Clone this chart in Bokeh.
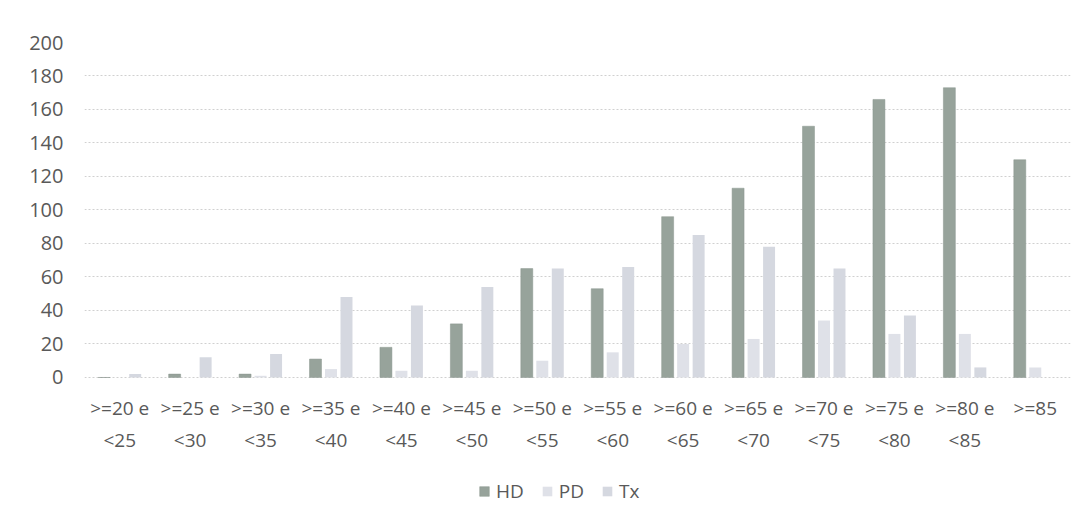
from bokeh.plotting import figure
from bokeh.models import (ColumnDataSource, FactorRange, Range1d, Legend, LegendItem,
                          FixedTicker)
from bokeh.transform import dodge
from bokeh.embed import file_html
from bokeh.resources import INLINE

# Age groups and counts per modality
groups = [">=20 e\n<25", ">=25 e\n<30", ">=30 e\n<35", ">=35 e\n<40", ">=40 e\n<45",
          ">=45 e\n<50", ">=50 e\n<55", ">=55 e\n<60", ">=60 e\n<65", ">=65 e\n<70",
          ">=70 e\n<75", ">=75 e\n<80", ">=80 e\n<85", ">=85"]
hd = [0, 2, 2, 11, 18, 32, 65, 53, 96, 113, 150, 166, 173, 130]
pd_vals = [0, 0, 1, 5, 4, 4, 10, 15, 20, 23, 34, 26, 26, 6]
tx = [2, 12, 14, 48, 43, 54, 65, 66, 85, 78, 65, 37, 6, 0]
y_ticks = [0, 20, 40, 60, 80, 100, 120, 140, 160, 180, 200]

src = ColumnDataSource(dict(g=groups, hd=hd, pd=pd_vals, tx=tx))

# the frame runs down to the bottom edge so the category axis and the legend
# can sit inside it, underneath the zero line
p = figure(x_range=FactorRange(*groups, range_padding=0), y_range=Range1d(-84.8, 200),
           frame_width=986, frame_height=477,
           min_border_left=84, min_border_right=13, min_border_top=42, min_border_bottom=0,
           output_backend="svg", toolbar_location=None)
p.background_fill_color = "white"
p.border_fill_color = "white"
p.outline_line_color = None

colors = {"HD": "#97a39b", "PD": "#dfe1e8", "Tx": "#d5d8e0"}
w = 0.17
r_hd = p.vbar(x=dodge("g", -0.22, range=p.x_range), top="hd", width=w, source=src,
              fill_color=colors["HD"], line_color="#8a968e", line_width=0.5)
r_pd = p.vbar(x=dodge("g", 0.0, range=p.x_range), top="pd", width=w, source=src,
              fill_color=colors["PD"], line_color=None)
r_tx = p.vbar(x=dodge("g", 0.22, range=p.x_range), top="tx", width=w, source=src,
              fill_color=colors["Tx"], line_color=None)

# value axis
p.yaxis.ticker = FixedTicker(ticks=y_ticks)
p.yaxis.axis_line_color = None
p.yaxis.major_tick_line_color = None
p.yaxis.minor_tick_line_color = None
p.yaxis.major_label_text_font = "Open Sans"
p.yaxis.major_label_text_font_size = "20px"
p.yaxis.major_label_text_color = "#595959"
p.yaxis.major_label_standoff = 15

# category axis pinned to the zero line
p.xaxis.fixed_location = 0
p.xaxis.axis_line_color = None
p.xaxis.major_tick_line_color = None
p.xaxis.major_label_text_font = "Open Sans"
p.xaxis.major_label_text_font_size = "19px"
p.xaxis.major_label_text_color = "#595959"
p.xaxis.major_label_standoff = 12
p.xaxis.major_label_text_line_height = 1.2

p.xgrid.grid_line_color = None
p.ygrid.grid_line_color = "#d0d0d0"
p.ygrid.grid_line_dash = "2 2"
p.ygrid.grid_line_width = 1

legend = Legend(items=[LegendItem(label="HD", renderers=[r_hd]),
                       LegendItem(label="PD", renderers=[r_pd]),
                       LegendItem(label="Tx", renderers=[r_tx])],
                orientation="horizontal", location=(394, 15),
                label_text_font="Open Sans", label_text_font_size="19px",
                label_text_color="#595959", glyph_width=12, glyph_height=12,
                spacing=17, label_standoff=6, background_fill_alpha=0,
                border_line_color=None, margin=0, padding=2)
p.add_layout(legend, "center")

open("out.html", "w").write(file_html(p, INLINE))
